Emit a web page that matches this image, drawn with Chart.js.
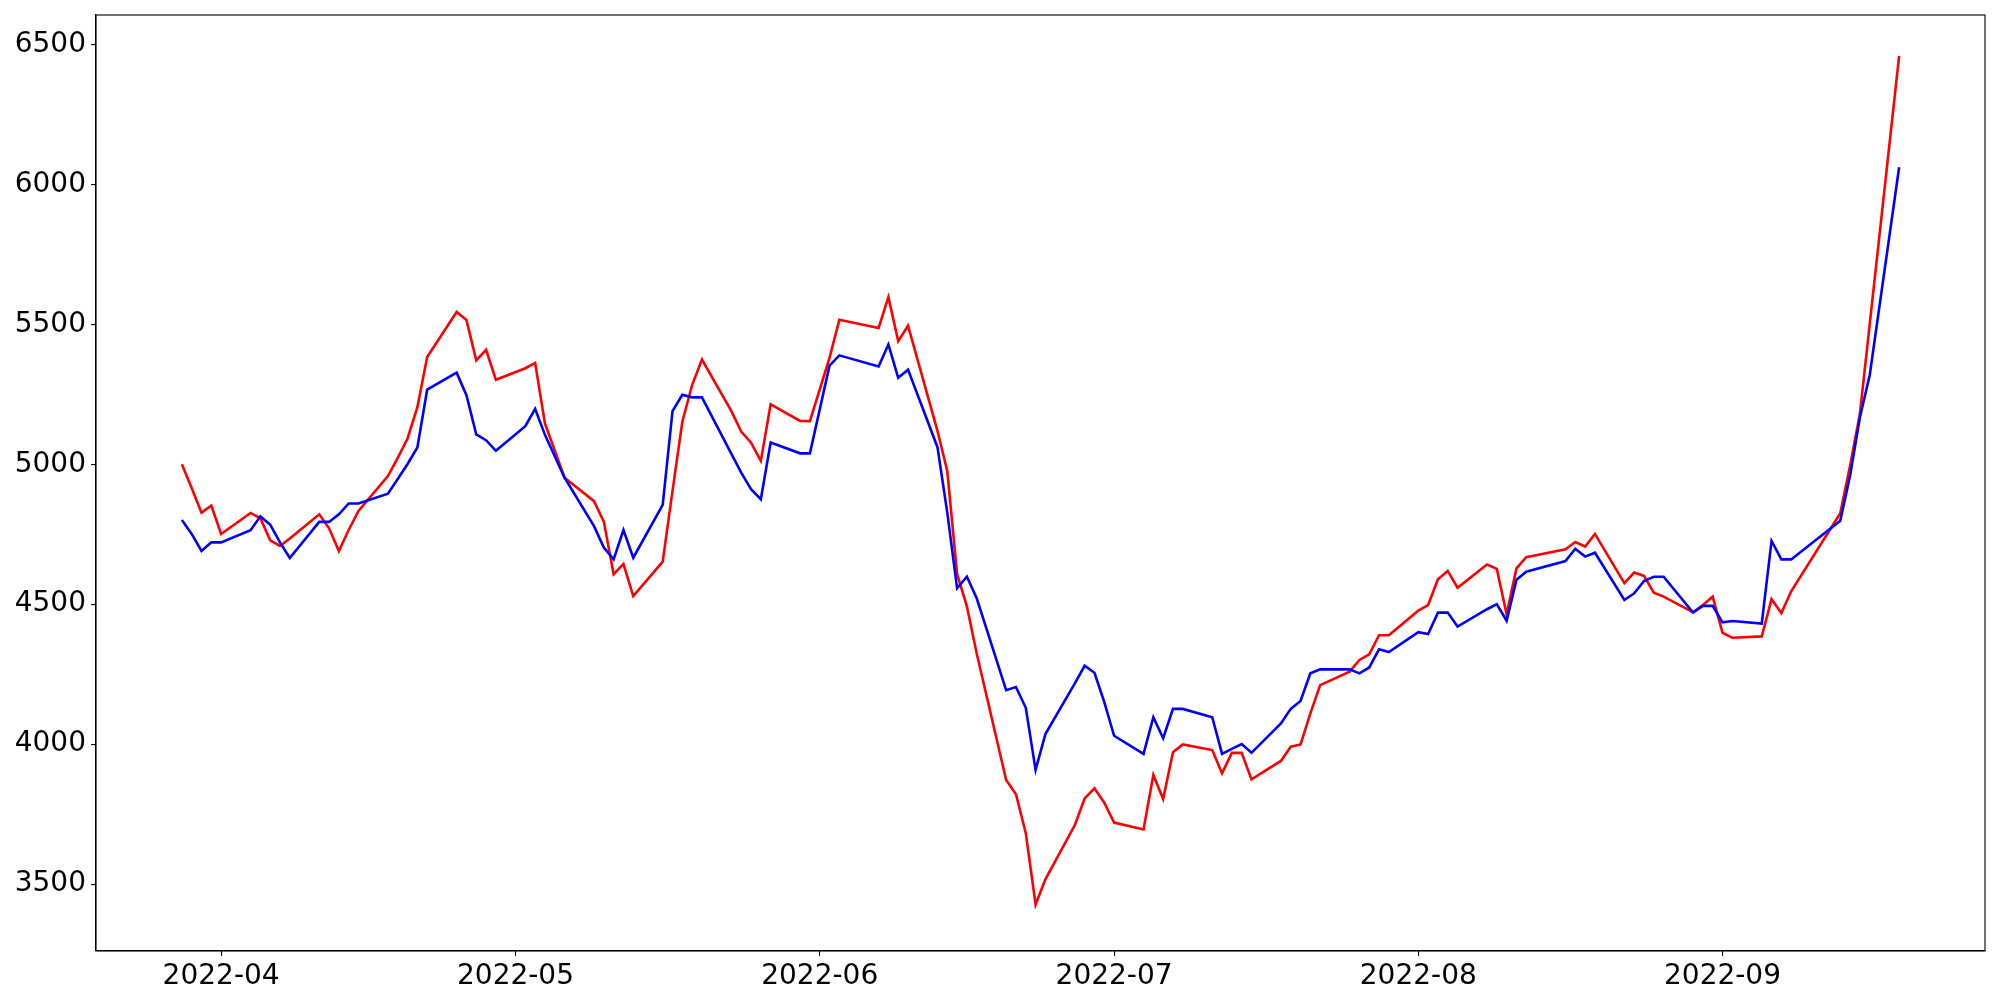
<!DOCTYPE html>
<html>
<head>
<meta charset="utf-8">
<script src="https://cdn.jsdelivr.net/npm/chart.js@4.4.0/dist/chart.umd.min.js"></script>
<style>
  html, body { margin: 0; padding: 0; background: #ffffff; }
  #chart { display: block; }
</style>
</head>
<body>
<canvas id="chart" width="2000" height="1000"></canvas>
<script>
const RED = "#ff0000";
const BLUE = "#0000ff";

// trading days: Mon-Fri from firstDay to lastDay, minus market holidays
const firstDay = "2022-03-28";
const lastDay = "2022-09-19";
const holidays = ["2022-05-05", "2022-06-01", "2022-06-06", "2022-08-15", "2022-09-09", "2022-09-12"];

// one line per week
const redValues = [
    5000, 4915, 4827, 4852, 4751,
    4826, 4807, 4728, 4708, 4735,
    4821, 4771, 4690, 4765, 4833,
    4958, 5023, 5092, 5204, 5383,
    5544, 5515, 5371, 5409, 5302,
    5343, 5362, 5146, 4952,
    4868, 4795, 4607, 4644, 4529,
    4652, 4905, 5152, 5283, 5374,
    5190, 5117, 5077, 5012, 5214,
    5155, 5154, 5380, 5516,
    5487, 5597, 5440, 5495,
    5119, 4976, 4608, 4492, 4324,
    3872, 3821, 3682, 3427, 3517,
    3711, 3806, 3842, 3791, 3720,
    3695, 3890, 3804, 3971, 3999,
    3979, 3896, 3969, 3969, 3874,
    3940, 3991, 3999, 4110, 4211,
    4259, 4301, 4321, 4389, 4389,
    4477, 4497, 4589, 4619, 4559,
    4642, 4626, 4464, 4628, 4668,
    4696, 4722, 4706, 4751,
    4575, 4613, 4601, 4541, 4527,
    4471, 4497, 4527, 4398, 4380,
    4385, 4518, 4468, 4546,
    4825, 4995, 5180, 5500,
    6459
];

const blueValues = [
    4801, 4751, 4690, 4721, 4721,
    4764, 4814, 4784, 4721, 4665,
    4794, 4794, 4821, 4860, 4860,
    4895, 4947, 5001, 5060, 5267,
    5327, 5247, 5107, 5086, 5048,
    5136, 5198, 5105, 4952,
    4779, 4702, 4660, 4765, 4666,
    4855, 5190, 5248, 5239, 5239,
    5037, 4970, 4911, 4875, 5078,
    5039, 5039, 5352, 5389,
    5349, 5428, 5309, 5338,
    5061, 4827, 4557, 4598, 4521,
    4193, 4204, 4130, 3908, 4036,
    4217, 4280, 4255, 4150, 4030,
    3965, 4096, 4021, 4126, 4126,
    4096, 3965, 3983, 4000, 3969,
    4074, 4126, 4154, 4253, 4267,
    4267, 4253, 4274, 4339, 4329,
    4400, 4393, 4470, 4470, 4420,
    4482, 4500, 4441, 4587, 4616,
    4654, 4698, 4670, 4684,
    4515, 4539, 4583, 4598, 4598,
    4470, 4494, 4494, 4435, 4440,
    4431, 4726, 4660, 4660,
    4798, 4959, 5167, 5318,
    6061
];

const yTicks = [3500, 4000, 4500, 5000, 5500, 6000, 6500];
const xTickLabels = ["2022-04", "2022-05", "2022-06", "2022-07", "2022-08", "2022-09"];

function dayNumber(iso) {
    const [y, m, d] = iso.split("-").map(Number);
    return Date.UTC(y, m - 1, d) / 86400000;
}

function tradingDays() {
    const days = [];
    const skip = holidays.map(dayNumber);
    for (let n = dayNumber(firstDay); n <= dayNumber(lastDay); n++) {
        const wd = new Date(n * 86400000).getUTCDay();
        if (wd === 0 || wd === 6) continue;
        if (skip.includes(n)) continue;
        days.push(n);
    }
    return days;
}

const days = tradingDays();
if (days.length !== redValues.length) console.log("length mismatch", days.length, redValues.length);

// matplotlib style 5% margins on the date axis
const span = days[days.length - 1] - days[0];
const xMin = days[0] - span * 0.05;
const xMax = days[days.length - 1] + span * 0.05;

const frame = {
    id: "frame",
    afterDraw(chart) {
        const { ctx, chartArea: a } = chart;
        ctx.save();
        ctx.strokeStyle = "#000000";
        ctx.lineWidth = 1.1;
        ctx.strokeRect(a.left, a.top, a.right - a.left, a.bottom - a.top);
        ctx.restore();
    }
};

const tickFont = { family: "'DejaVu Sans'", size: 28 };

new Chart(document.getElementById("chart"), {
    type: "line",
    data: {
        datasets: [
            {
                label: "blue",
                data: days.map((d, i) => ({ x: d, y: blueValues[i] })),
                borderColor: BLUE,
                borderWidth: 2.6,
                pointRadius: 0,
                tension: 0,
                fill: false,
            },
            {
                label: "red",
                data: days.map((d, i) => ({ x: d, y: redValues[i] })),
                borderColor: RED,
                borderWidth: 2.6,
                pointRadius: 0,
                tension: 0,
                fill: false,
            }
        ]
    },
    options: {
        responsive: false,
        animation: false,
        devicePixelRatio: 1,
        layout: { padding: { top: 15, right: 15, left: 0, bottom: 0 } },
        plugins: {
            legend: { display: false },
            tooltip: { enabled: false }
        },
        scales: {
            x: {
                type: "linear",
                min: xMin,
                max: xMax,
                afterBuildTicks: scale => {
                    scale.ticks = xTickLabels.map(l => ({ value: dayNumber(l + "-01") }));
                },
                afterFit: scale => {
                    scale.height = 49;
                    scale.paddingLeft = 0;
                    scale.paddingRight = 0;
                },
                grid: { drawOnChartArea: false, drawTicks: true, tickLength: 5, color: "#000000", lineWidth: 1.1 },
                border: { display: true, color: "#000000", width: 1.1 },
                ticks: {
                    autoSkip: false,
                    maxRotation: 0,
                    padding: 4,
                    color: "#000000",
                    font: tickFont,
                    callback: (value, index) => xTickLabels[index]
                }
            },
            y: {
                type: "linear",
                min: 3261,
                max: 6605,
                afterBuildTicks: scale => {
                    scale.ticks = yTicks.map(v => ({ value: v }));
                },
                afterFit: scale => {
                    scale.width = 96;
                    scale.paddingTop = 0;
                    scale.paddingBottom = 0;
                },
                grid: { drawOnChartArea: false, drawTicks: true, tickLength: 5, color: "#000000", lineWidth: 1.1 },
                border: { display: true, color: "#000000", width: 1.1 },
                ticks: {
                    padding: 5,
                    color: "#000000",
                    font: tickFont,
                    callback: value => String(value)
                }
            }
        }
    },
    plugins: [frame]
});
</script>
</body>
</html>
